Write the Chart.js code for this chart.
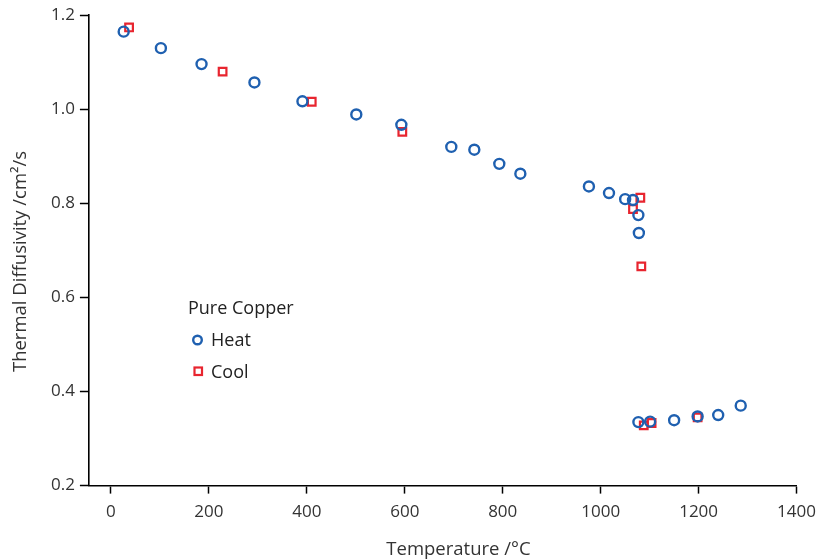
<!DOCTYPE html>
<html><head><meta charset="utf-8">
<script src="https://cdn.jsdelivr.net/npm/chart.js@4.4.1/dist/chart.umd.min.js"></script>
<style>html,body{margin:0;padding:0;background:#fff}#wrap{width:824px;height:560px}</style>
</head><body><div id="wrap"><canvas id="c" width="824" height="560"></canvas></div>
<script>
const heatT = [26, 102, 185, 293, 391, 501, 593, 695, 742, 793, 836, 976, 1017, 1050, 1066, 1077, 1078, 1077, 1101, 1150, 1198, 1240, 1286];
const heatD = [1.165, 1.130, 1.096, 1.057, 1.017, 0.989, 0.967, 0.920, 0.914, 0.884, 0.863, 0.836, 0.822, 0.809, 0.807, 0.775, 0.737, 0.335, 0.336, 0.339, 0.347, 0.350, 0.370];
const coolT = [37, 228, 410, 595, 1081, 1066, 1083, 1088, 1104, 1198];
const coolD = [1.174, 1.080, 1.016, 0.952, 0.812, 0.788, 0.666, 0.328, 0.333, 0.345];
const xTicks = [0, 200, 400, 600, 800, 1000, 1200, 1400];
const yTicks = [0.2, 0.4, 0.6, 0.8, 1.0, 1.2];
const seriesNames = ['Heat', 'Cool'];
const legendTitle = 'Pure Copper';
const xTitle = 'Temperature /°C';
const yTitle = 'Thermal Diffusivity /cm²/s';

const BLUE = '#1f60b0', RED = '#e8252f';
const FONT = '"Open Sans", sans-serif';

const annotPlugin = {
  id: 'annot',
  afterDraw(chart) {
    const ctx = chart.ctx;
    ctx.save();
    ctx.fillStyle = '#333';
    ctx.textBaseline = 'middle';
    ctx.textAlign = 'center';
    ctx.font = '18.5px ' + FONT;
    ctx.fillText(xTitle, 458.5, 550);
    ctx.save();
    ctx.translate(21, 261.5);
    ctx.rotate(-Math.PI / 2);
    ctx.fillText(yTitle, 0, 0);
    ctx.restore();
    // legend
    ctx.font = '18px ' + FONT;
    ctx.fillStyle = '#222';
    ctx.textAlign = 'left';
    ctx.fillText(legendTitle, 188, 309);
    ctx.lineWidth = 2.4;
    ctx.strokeStyle = BLUE;
    ctx.beginPath(); ctx.arc(197.5, 340, 4.3, 0, Math.PI * 2); ctx.stroke();
    ctx.fillText(seriesNames[0], 211, 341);
    ctx.strokeStyle = RED;
    ctx.lineWidth = 2.2;
    ctx.strokeRect(194.5, 367.5, 7.5, 7.5);
    ctx.fillText(seriesNames[1], 211, 373);
    ctx.restore();
  }
};

new Chart(document.getElementById('c'), {
  type: 'scatter',
  data: {
    datasets: [
      { label: seriesNames[0], data: heatT.map((t, i) => ({x: t, y: heatD[i]})),
        pointStyle: 'circle', pointRadius: 5, pointHoverRadius: 5,
        borderColor: BLUE, backgroundColor: 'rgba(0,0,0,0)', pointBorderWidth: 2.4 },
      { label: seriesNames[1], data: coolT.map((t, i) => ({x: t, y: coolD[i]})),
        pointStyle: 'rect', pointRadius: 5.4, pointHoverRadius: 5.4,
        borderColor: RED, backgroundColor: 'rgba(0,0,0,0)', pointBorderWidth: 2.2 }
    ]
  },
  options: {
    responsive: false, animation: false,
    layout: { padding: { top: 12, right: -4, left: 46, bottom: 30 } },
    plugins: { legend: { display: false }, tooltip: { enabled: false } },
    scales: {
      x: {
        type: 'linear', min: -45, max: 1400,
        afterBuildTicks: s => { s.ticks = xTicks.map(v => ({value: v})); },
        grid: { display: true, drawOnChartArea: false, drawTicks: true, tickLength: 8, color: '#000', tickWidth: 1.5 },
        border: { display: true, color: '#000', width: 1.6 },
        ticks: { color: '#333', font: { size: 17, family: FONT }, padding: 8, maxRotation: 0, callback: v => String(v) }
      },
      y: {
        type: 'linear', min: 0.2, max: 1.2,
        afterBuildTicks: s => { s.ticks = yTicks.map(v => ({value: v})); },
        grid: { display: true, drawOnChartArea: false, drawTicks: true, tickLength: 9, color: '#000', tickWidth: 1.5 },
        border: { display: true, color: '#000', width: 1.6 },
        ticks: { color: '#333', font: { size: 17, family: FONT }, padding: 5, callback: v => v.toFixed(1) }
      }
    }
  },
  plugins: [annotPlugin]
});
</script></body></html>
